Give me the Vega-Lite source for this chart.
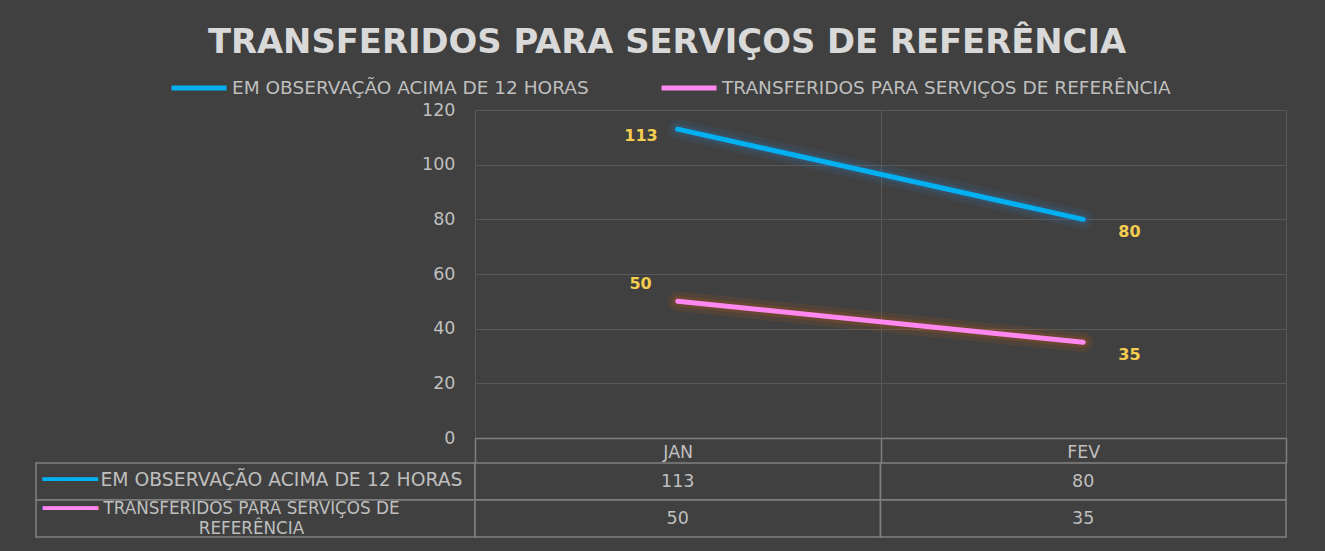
{
  "$schema": "https://vega.github.io/schema/vega-lite/v6.json",
  "background": "#404040",
  "padding": {"left": 35, "top": 26, "right": 40, "bottom": 14},
  "title": {
    "text": "TRANSFERIDOS PARA SERVIÇOS DE REFERÊNCIA",
    "font": "DejaVu Sans",
    "fontSize": 33.8,
    "fontWeight": "bold",
    "color": "#d9d9d9",
    "anchor": "middle",
    "dx": 6,
    "offset": -2
  },
  "data": {
    "values": [
      {"month": "JAN", "series": "EM OBSERVAÇÃO ACIMA DE 12 HORAS", "value": 113},
      {"month": "FEV", "series": "EM OBSERVAÇÃO ACIMA DE 12 HORAS", "value": 80},
      {"month": "JAN", "series": "TRANSFERIDOS PARA SERVIÇOS DE REFERÊNCIA", "value": 50},
      {"month": "FEV", "series": "TRANSFERIDOS PARA SERVIÇOS DE REFERÊNCIA", "value": 35}
    ]
  },
  "columns": 2,
  "spacing": {"row": 25, "column": 0},
  "bounds": "flush",
  "concat": [
    {
      "width": 439,
      "height": 328,
      "transform": [{"filter": "false"}],
      "mark": {"type": "point", "opacity": 0}
    },
    {
      "width": 811,
      "height": 328,
      "encoding": {
        "x": {
          "field": "month", "type": "nominal", "sort": ["JAN", "FEV"],
          "scale": {"type": "band", "paddingInner": 0, "paddingOuter": 0},
          "axis": {
            "title": null, "orient": "bottom", "tickBand": "extent",
            "ticks": true, "tickSize": 25, "tickColor": "#808080", "tickWidth": 1.5,
            "domain": true, "domainColor": "#808080", "domainWidth": 1.5,
            "grid": true, "gridColor": "#595959", "gridWidth": 1,
            "labelPadding": -20, "labelAngle": 0,
            "labelFont": "DejaVu Sans", "labelFontSize": 17.5, "labelColor": "#bfbfbf"
          }
        },
        "y": {
          "field": "value", "type": "quantitative",
          "scale": {"domain": [0, 120], "nice": false},
          "axis": {
            "title": null, "values": [0, 20, 40, 60, 80, 100, 120],
            "grid": true, "gridColor": "#595959", "gridWidth": 1,
            "domain": false, "ticks": false, "labelPadding": 20, "labelFlush": false,
            "labelFont": "DejaVu Sans", "labelFontSize": 17.5, "labelColor": "#bfbfbf"
          }
        }
      },
      "layer": [
        {
          "transform": [{"filter": "datum.series == 'EM OBSERVAÇÃO ACIMA DE 12 HORAS'"}],
          "mark": {"type": "line", "strokeWidth": 20, "opacity": 0.12, "strokeCap": "round", "stroke": "#2e75b6"}
        },
        {
          "transform": [{"filter": "datum.series == 'EM OBSERVAÇÃO ACIMA DE 12 HORAS'"}],
          "mark": {"type": "line", "strokeWidth": 11, "opacity": 0.2, "strokeCap": "round", "stroke": "#2e75b6"}
        },
        {
          "transform": [{"filter": "datum.series == 'TRANSFERIDOS PARA SERVIÇOS DE REFERÊNCIA'"}],
          "mark": {"type": "line", "strokeWidth": 20, "opacity": 0.12, "strokeCap": "round", "stroke": "#c55a11"}
        },
        {
          "transform": [{"filter": "datum.series == 'TRANSFERIDOS PARA SERVIÇOS DE REFERÊNCIA'"}],
          "mark": {"type": "line", "strokeWidth": 11, "opacity": 0.2, "strokeCap": "round", "stroke": "#c55a11"}
        },
        {
          "mark": {"type": "line", "strokeWidth": 5, "strokeCap": "round"},
          "encoding": {
            "color": {
              "field": "series", "type": "nominal",
              "scale": {"domain": ["EM OBSERVAÇÃO ACIMA DE 12 HORAS", "TRANSFERIDOS PARA SERVIÇOS DE REFERÊNCIA"], "range": ["#00b0f0", "#ff88f0"]},
              "legend": {
                "orient": "none", "legendX": 133, "legendY": -52,
                "direction": "horizontal", "title": null,
                "symbolType": "stroke", "symbolSize": 3025, "symbolStrokeWidth": 5,
                "labelFont": "DejaVu Sans", "labelFontSize": 18.5, "labelColor": "#bfbfbf",
                "labelOffset": 3, "columnPadding": 62, "labelLimit": 1000
              }
            }
          }
        },
        {
          "transform": [{"filter": "datum.month == 'JAN' && datum.series == 'EM OBSERVAÇÃO ACIMA DE 12 HORAS'"}],
          "mark": {"type": "text", "align": "right", "dx": -20, "dy": 7, "font": "DejaVu Sans", "fontWeight": "bold", "fontSize": 16, "fill": "#f5cd4f"},
          "encoding": {"text": {"field": "value", "type": "quantitative"}}
        },
        {
          "transform": [{"filter": "datum.month == 'JAN' && datum.series == 'TRANSFERIDOS PARA SERVIÇOS DE REFERÊNCIA'"}],
          "mark": {"type": "text", "align": "right", "dx": -26, "dy": -17, "font": "DejaVu Sans", "fontWeight": "bold", "fontSize": 16, "fill": "#f5cd4f"},
          "encoding": {"text": {"field": "value", "type": "quantitative"}}
        },
        {
          "transform": [{"filter": "datum.month == 'FEV'"}],
          "mark": {"type": "text", "align": "left", "dx": 35, "dy": 13, "font": "DejaVu Sans", "fontWeight": "bold", "fontSize": 16, "fill": "#f5cd4f"},
          "encoding": {"text": {"field": "value", "type": "quantitative"}}
        }
      ]
    },
    {
      "width": 439,
      "height": 74,
      "transform": [{"filter": "datum.month == 'JAN'"}],
      "encoding": {
        "y": {
          "field": "series", "type": "nominal",
          "sort": ["EM OBSERVAÇÃO ACIMA DE 12 HORAS", "TRANSFERIDOS PARA SERVIÇOS DE REFERÊNCIA"],
          "scale": {"paddingInner": 0, "paddingOuter": 0},
          "axis": null
        }
      },
      "layer": [
        {"mark": {"type": "rect", "fill": "#404040", "stroke": "#808080", "strokeWidth": 1.5}},
        {
          "transform": [{"filter": "datum.series == 'EM OBSERVAÇÃO ACIMA DE 12 HORAS'"}],
          "mark": {"type": "text", "text": "━━━━", "dx": -185, "dy": -2, "font": "DejaVu Sans", "fontSize": 23, "fill": "#00b0f0"}
        },
        {
          "transform": [{"filter": "datum.series == 'TRANSFERIDOS PARA SERVIÇOS DE REFERÊNCIA'"}],
          "mark": {"type": "text", "text": "━━━━", "dx": -185, "dy": -10, "font": "DejaVu Sans", "fontSize": 23, "fill": "#ff88f0"}
        },
        {
          "transform": [{"filter": "datum.series == 'EM OBSERVAÇÃO ACIMA DE 12 HORAS'"}],
          "mark": {"type": "text", "dx": 26, "dy": -2, "font": "DejaVu Sans", "fontSize": 18.8, "fill": "#bfbfbf"},
          "encoding": {"text": {"field": "series", "type": "nominal"}}
        },
        {
          "transform": [{"filter": "datum.series == 'TRANSFERIDOS PARA SERVIÇOS DE REFERÊNCIA'"}],
          "mark": {"type": "text", "dx": -4, "dy": -10, "lineHeight": 20, "font": "DejaVu Sans", "fontSize": 16.8, "fill": "#bfbfbf"},
          "encoding": {"text": {"value": ["TRANSFERIDOS PARA SERVIÇOS DE", "REFERÊNCIA"]}}
        }
      ]
    },
    {
      "width": 811,
      "height": 74,
      "encoding": {
        "x": {"field": "month", "type": "nominal", "sort": ["JAN", "FEV"], "scale": {"paddingInner": 0, "paddingOuter": 0}, "axis": null},
        "y": {
          "field": "series", "type": "nominal",
          "sort": ["EM OBSERVAÇÃO ACIMA DE 12 HORAS", "TRANSFERIDOS PARA SERVIÇOS DE REFERÊNCIA"],
          "scale": {"paddingInner": 0, "paddingOuter": 0},
          "axis": null
        }
      },
      "layer": [
        {"mark": {"type": "rect", "fill": "#404040", "stroke": "#808080", "strokeWidth": 1.5}},
        {
          "mark": {"type": "text", "font": "DejaVu Sans", "fontSize": 17.5, "fill": "#bfbfbf"},
          "encoding": {"text": {"field": "value", "type": "quantitative"}}
        }
      ]
    }
  ],
  "config": {
    "view": {"stroke": null},
    "font": "DejaVu Sans"
  }
}
